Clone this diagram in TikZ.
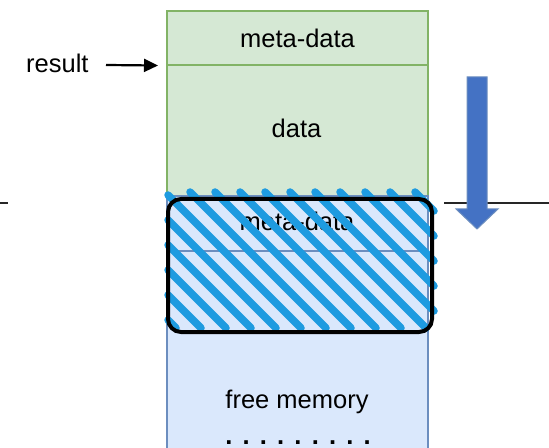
\documentclass[tikz,border=0pt]{standalone}
\usepackage{fontspec}
\setmainfont{Liberation Sans}
\usetikzlibrary{arrows.meta}
\definecolor{greenfill}{HTML}{D5E8D4}
\definecolor{greenline}{HTML}{82B366}
\definecolor{bluefill}{HTML}{DAE8FC}
\definecolor{blueline}{HTML}{6C8EBF}
\definecolor{hatchblue}{HTML}{1E9BE0}
\definecolor{arrowblue}{HTML}{4472C4}
\tikzset{
  cell/.style={draw, line width=1.6bp, minimum width=261bp, anchor=north west, inner sep=0pt},
  greencell/.style={cell, fill=greenfill, draw=greenline},
  bluecell/.style={cell, fill=bluefill, draw=blueline},
  label text/.style={anchor=base, inner sep=0pt, font=\fontsize{25.5bp}{30bp}\selectfont},
  hatch/.style={draw=hatchblue, line width=7.5bp, line cap=round},
  level line/.style={draw=black!85, line width=1.5bp},
}
\begin{document}
\begin{tikzpicture}[x=1bp, y=-1bp]
  \useasboundingbox (0,0) rectangle (549,448);
  \clip (0,0) rectangle (549,448);

  % stack of memory cells
  \node[greencell, minimum height=54bp]  (meta)  at (166,10)  {};
  \node[greencell, minimum height=131bp] (data)  at (166,64)  {};
  \node[bluecell,  minimum height=55bp]  (meta2) at (166,195) {};
  \node[bluecell,  minimum height=220bp] (free)  at (166,250) {};

  \node[label text] (tmeta)  at (297.5,47.5) {meta-data};
  \node[label text] (tdata)  at (296.5,138)  {data};
  \node[label text] (tmeta2) at (297,231)    {meta-data};
  \node[label text] (tfree)  at (297,408)    {free memory};
  \node[label text] (tdots)  at (298,444)    {\textbf{.\hspace{10.2bp}.\hspace{10.2bp}.\hspace{10.2bp}.\hspace{10.2bp}.\hspace{10.2bp}.\hspace{10.2bp}.\hspace{10.2bp}.\hspace{10.2bp}.}};

  % pointer to the block
  \node[label text, anchor=base west] (result) at (26,73) {result};
  \coordinate (rtail) at (106,65);
  \draw[line width=2.2bp, -{Triangle[length=14bp, width=13bp]}, shorten >=8bp]
    (rtail) -- (meta.south west);

  % level lines on both sides
  \coordinate (lla) at (0,203);
  \coordinate (llb) at (8,203);
  \coordinate (lra) at (444,203);
  \coordinate (lrb) at (549,203);
  \path[level line] (lla) -- (llb);
  \path[level line] (lra) -- (lrb);

  % hatched selection over the freed block
  \foreach \k in {-9,...,6}{
    \pgfmathsetmacro\c{2+25*\k}
    \pgfmathsetmacro\xa{max(168,192-\c)}
    \pgfmathsetmacro\xb{min(434,328-\c)}
    \draw[hatch] ({\xa},{\xa+\c}) -- ({\xb},{\xb+\c});
  }
  \node[draw=black, line width=4bp, rounded corners=13bp, anchor=north west,
        minimum width=264bp, minimum height=133bp, inner sep=0pt] (sel) at (166,197) {};

  % direction of growth
  \filldraw[fill=arrowblue, draw=blueline, line width=1bp]
    (467,77) -- (487,77) -- (487,209) -- (498,209) -- (477,229)
    -- (456,209) -- (467,209) -- cycle;
\end{tikzpicture}
\end{document}
